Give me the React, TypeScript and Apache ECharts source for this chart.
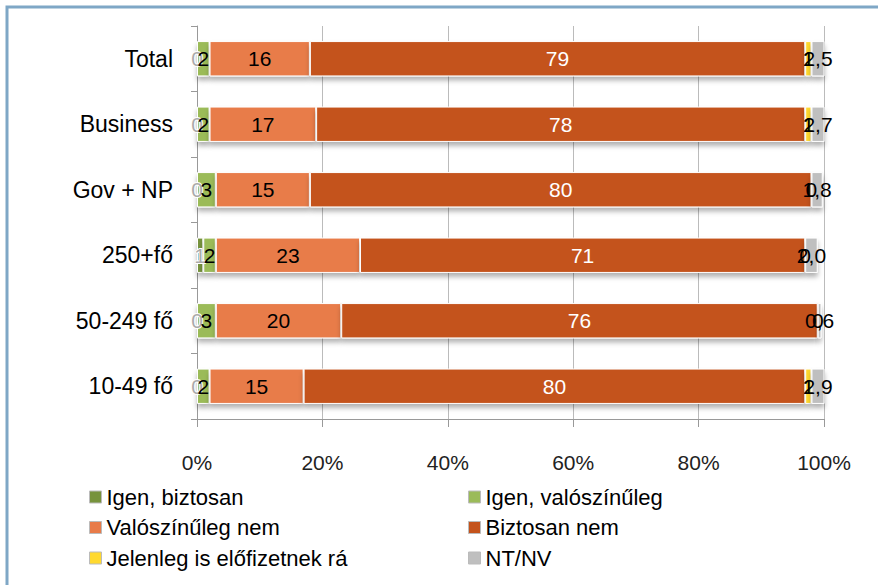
import React, { useEffect, useRef } from "react";
import * as echarts from "echarts";

const categories = ["Total", "Business", "Gov + NP", "250+fő", "50-249 fő", "10-49 fő"];
const seriesNames = [
  "Igen, biztosan",
  "Igen, valószínűleg",
  "Valószínűleg nem",
  "Biztosan nem",
  "Jelenleg is előfizetnek rá",
  "NT/NV",
];
const igenBiztosan = [0, 0, 0, 1, 0, 0];
const igenValoszinuleg = [2, 2, 3, 2, 3, 2];
const valoszinulegNem = [16, 17, 15, 23, 20, 15];
const biztosanNem = [79, 78, 80, 71, 76, 80];
const jelenleg = [1, 1, 0, 0, 0, 1];
const ntnv = [2.5, 2.7, 1.8, 2.0, 0.6, 2.9];
const xTicks = [0, 20, 40, 60, 80, 100];

const colors = ["#77933c", "#9bbb59", "#e87b49", "#c4531c", "#ffd92f", "#bfbfbf"];
const labelColors = ["#000", "#000", "#000", "#fff", "#000", "#000"];
const FONT = "'Liberation Sans', Arial, sans-serif";

export default function App() {
  const ref = useRef<HTMLDivElement>(null);
  useEffect(() => {
    if (!ref.current) return;
    const chart = echarts.init(ref.current, null, { renderer: "svg" });
    const allData = [igenBiztosan, igenValoszinuleg, valoszinulegNem, biztosanNem, jelenleg, ntnv];
    const series = allData.map((d, i) => ({
      name: seriesNames[i],
      type: "bar",
      stack: "total",
      data: d,
      barWidth: "54%",
      itemStyle: {
        color: colors[i],
        borderColor: "#fff",
        borderWidth: 1,
        shadowColor: "rgba(0,0,0,0.3)",
        shadowBlur: 5,
        shadowOffsetY: 4,
      },
      label: {
        show: true,
        position: "inside",
        fontFamily: FONT,
        fontSize: 21,
        color: i === 0 ? "#aaa" : labelColors[i],
        textBorderColor: i === 0 ? "#fff" : undefined,
        textBorderWidth: i === 0 ? 2 : 0,
        formatter: (p: any) =>
          i === 5 ? Number(p.value).toFixed(1).replace(".", ",") : String(p.value),
      },
    }));
    const legendCommon = {
      orient: "vertical",
      top: 486,
      padding: 0,
      itemWidth: 12,
      itemHeight: 12,
      itemGap: 8.5,
      icon: "rect",
      textStyle: {
        fontFamily: FONT,
        fontSize: 22,
        lineHeight: 22,
        color: "#000",
      },
      itemStyle: { borderColor: "#bbb", borderWidth: 1 },
    };
    chart.setOption({
      animation: false,
      grid: { left: 197, right: 54, top: 26, bottom: 166 },
      graphic: [
        {
          type: "rect",
          shape: { x: 7, y: 7, width: 900, height: 600 },
          style: { fill: "none", stroke: "#7fa7c6", lineWidth: 3 },
          silent: true,
        },
      ],
      legend: [
        { ...legendCommon, left: 89, data: [seriesNames[0], seriesNames[2], seriesNames[4]] },
        { ...legendCommon, left: 468, data: [seriesNames[1], seriesNames[3], seriesNames[5]] },
      ],
      xAxis: {
        type: "value",
        min: 0,
        max: 100,
        interval: 20,
        axisLine: { show: true, lineStyle: { color: "#999" } },
        axisTick: { show: true, length: 8, lineStyle: { color: "#999" } },
        splitLine: { show: true, lineStyle: { color: "#bbb" } },
        axisLabel: {
          fontFamily: FONT,
          fontSize: 21,
          color: "#222",
          margin: 33,
          formatter: (v: number) => (xTicks.includes(v) ? v + "%" : ""),
        },
      },
      yAxis: {
        type: "category",
        data: categories,
        inverse: true,
        axisLine: { show: true, lineStyle: { color: "#999" } },
        axisTick: { show: true, length: 6, lineStyle: { color: "#999" } },
        axisLabel: { fontFamily: FONT, fontSize: 23, color: "#000", margin: 24 },
      },
      series,
    });
    return () => chart.dispose();
  }, []);
  return (
    <div
      ref={ref}
      style={{ position: "absolute", left: 0, top: 0, width: 878, height: 585 }}
    />
  );
}
